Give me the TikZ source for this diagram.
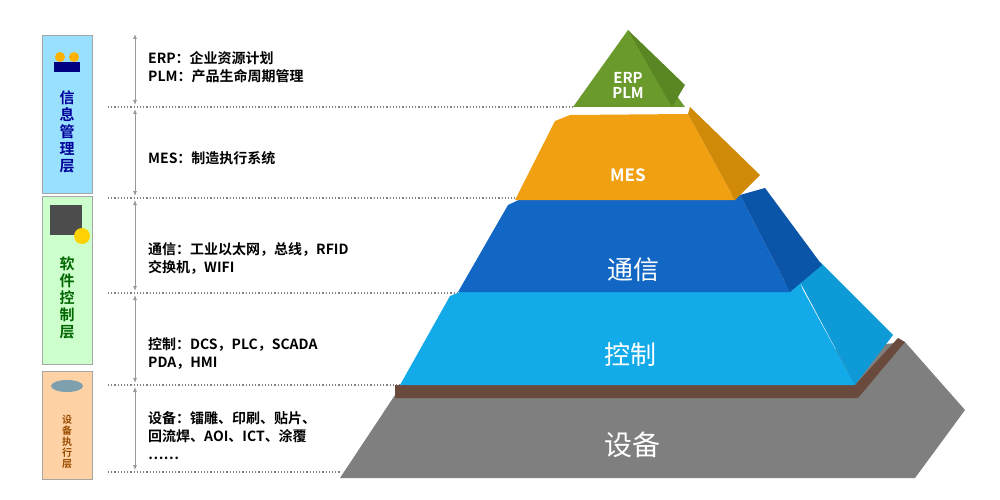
\documentclass[tikz,border=0pt]{standalone}
\usepackage{fontspec}
\usetikzlibrary{arrows.meta}
\setmainfont{Noto Sans CJK SC}
\newfontfamily\cjkb{Noto Sans CJK SC Bold}
\definecolor{erpg}{HTML}{6B9A2C}
\definecolor{erpd}{HTML}{5A8624}
\definecolor{mesO}{HTML}{F0A010}
\definecolor{mesD}{HTML}{D08A08}
\definecolor{txB}{HTML}{1266C4}
\definecolor{txD}{HTML}{0A55A8}
\definecolor{kzC}{HTML}{12AAE8}
\definecolor{kzD}{HTML}{0E9AD6}
\definecolor{sbG}{HTML}{7F7F7F}
\definecolor{brn}{HTML}{6B4A3E}
\begin{document}
\begin{tikzpicture}[x=1pt,y=-1pt,
  lbl/.style={anchor=west,font=\cjkb\fontsize{14}{18}\selectfont,align=left,inner sep=0pt},
  vlbl/.style={font=\cjkb\fontsize{15}{17}\selectfont,align=center,inner sep=0pt},
  dot/.style={gray,dotted,line width=1.2pt},
  dim/.style={gray!80,line width=0.8pt,{Latex[length=5pt,width=4pt]}-{Latex[length=5pt,width=4pt]}}]
\useasboundingbox[fill=white] (0,0) rectangle (1000,500);
% left boxes
\node[draw=gray!70,fill=blue!30!cyan!40,minimum width=50,minimum height=158,inner sep=0pt] (b1) at (67,114) {};
\node[draw=gray!70,fill=green!20,minimum width=50,minimum height=168,inner sep=0pt] (b2) at (67,280) {};
\node[draw=gray!70,fill=orange!35,minimum width=50,minimum height=108,inner sep=0pt] (b3) at (67,425) {};
\node[vlbl,text=blue!60!black] at (67,132) {信\\息\\管\\理\\层};
\node[vlbl,text=green!40!black] at (67,298) {软\\件\\控\\制\\层};
\node[vlbl,text=orange!60!black,font=\cjkb\fontsize{10}{11}\selectfont] at (67,442) {设\\备\\执\\行\\层};
% simple icons
\fill[blue!50!black] (54,62) rectangle (80,72);
\fill[orange!60!yellow] (60,57) circle (5) (74,57) circle (5);
\fill[gray!60!black] (50,205) rectangle (82,235);
\fill[yellow!70!orange] (82,236) circle (8);
\fill[cyan!30!gray] (67,386) ellipse (16 and 6);
% dotted lines
\coordinate (d1a) at (108,107); \coordinate (d1b) at (573,107);
\coordinate (d2a) at (108,198); \coordinate (d2b) at (515,198);
\coordinate (d3a) at (108,293); \coordinate (d3b) at (458,293);
\coordinate (d4a) at (108,385); \coordinate (d4b) at (400,385);
\coordinate (d5a) at (108,472); \coordinate (d5b) at (340,472);
\foreach \i in {1,...,5} \draw[dot] (d\i a) -- (d\i b);
% arrows
\coordinate (a0) at (135,34);
\coordinate (a1t) at (135,105); \coordinate (a1b) at (135,109);
\coordinate (a2t) at (135,196); \coordinate (a2b) at (135,200);
\coordinate (a3t) at (135,291); \coordinate (a3b) at (135,295);
\coordinate (a4t) at (135,383); \coordinate (a4b) at (135,387);
\coordinate (a5) at (135,470);
\draw[dim] (a0)--(a1t); \draw[dim] (a1b)--(a2t); \draw[dim] (a2b)--(a3t);
\draw[dim] (a3b)--(a4t); \draw[dim] (a4b)--(a5);
% texts
\node[lbl] at (148,67) {ERP：企业资源计划\\PLM：产品生命周期管理};
\node[lbl] at (148,158) {MES：制造执行系统};
\node[lbl] at (148,258) {通信：工业以太网，总线，RFID\\交换机，WIFI};
\node[lbl] at (148,353) {控制：DCS，PLC，SCADA\\PDA，HMI};
\node[lbl] at (148,436) {设备：镭雕、印刷、贴片、\\回流焊、AOI、ICT、涂覆\\……};
% pyramid: gray base
\fill[sbG] (340,478) -- (395,395) -- (905,342) -- (965,410) -- (915,478) -- cycle;
\fill[brn] (395,385) -- (395,398) -- (858,398) -- (905,342) -- (898,338) -- (855,385) -- cycle;
% 控制
\fill[kzC] (400,385) -- (450,296) -- (465,290) -- (800,282) -- (803,290) -- (855,385) -- cycle;
\fill[kzD] (800,282) -- (820,262) -- (893,335) -- (855,385) -- cycle;
% 通信
\fill[txB] (458,292) -- (508,205) -- (525,197) -- (740,195) -- (790,292) -- cycle;
\fill[txD] (740,195) -- (765,188) -- (822,265) -- (790,292) -- cycle;
% MES
\fill[mesO] (515,200) -- (555,121) -- (570,115) -- (688,114) -- (735,200) -- cycle;
\fill[mesD] (688,114) -- (690,107) -- (760,175) -- (735,200) -- cycle;
% ERP
\fill[erpg] (573,107) -- (628,30) -- (685,107) -- cycle;
\fill[erpd] (628,30) -- (685,85) -- (672,107) -- cycle;
% labels
\node[text=white,font=\cjkb\fontsize{15}{15}\selectfont,align=center] (erp) at (628,85) {ERP\\PLM};
\node[text=white,font=\cjkb\fontsize{17}{17}\selectfont] (mes) at (628,175) {MES};
\node[text=white,font=\fontsize{26}{26}\selectfont] (tx) at (633,270) {通信};
\node[text=white,font=\fontsize{26}{26}\selectfont] (kz) at (630,355) {控制};
\node[text=white,font=\fontsize{28}{28}\selectfont] (sb) at (632,445) {设备};
\end{tikzpicture}
\end{document}
